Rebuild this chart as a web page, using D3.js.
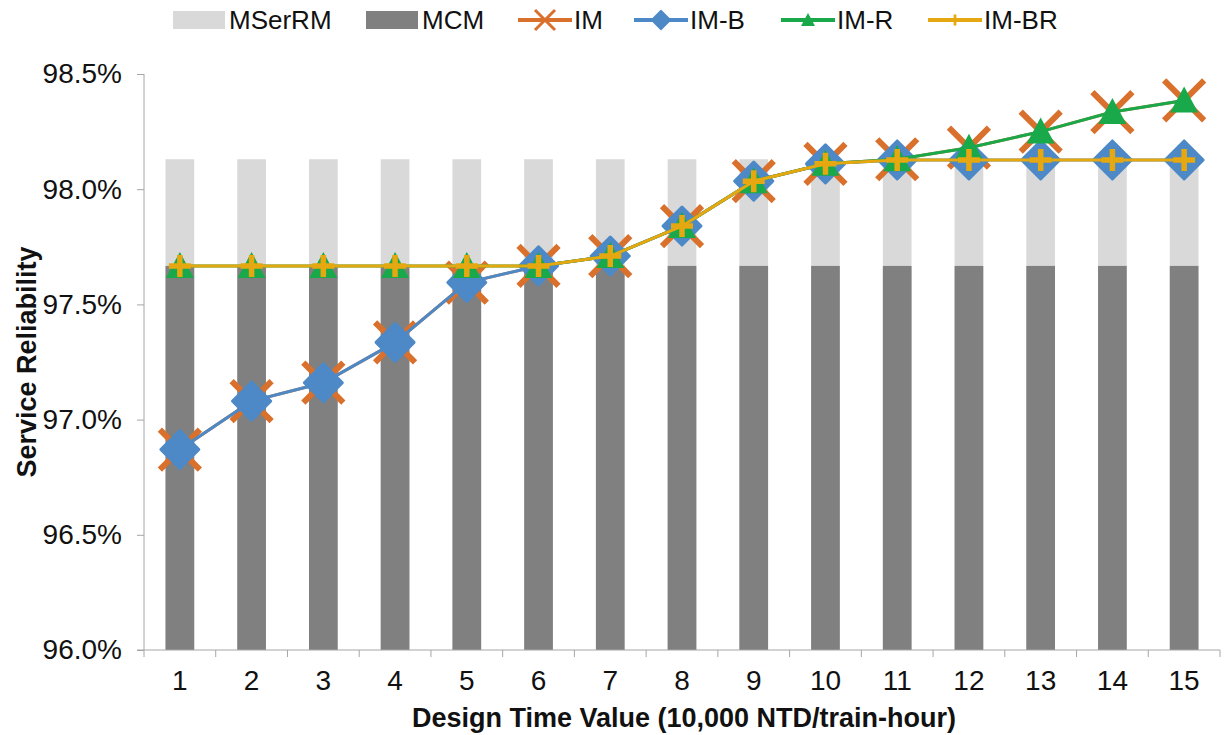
<!DOCTYPE html>
<meta charset="utf-8">
<script src="https://d3js.org/d3.v7.min.js"></script>
<style>
  body { margin: 0; background: #fff; }
  text { font-family: "Liberation Sans", Arial, sans-serif; fill: #111; }
</style>
<div id="my_dataviz"></div>
<script>
  // data
  var categories = ["1","2","3","4","5","6","7","8","9","10","11","12","13","14","15"];
  var msermm = [98.13,98.13,98.13,98.13,98.13,98.13,98.13,98.13,98.13,98.13,98.13,98.13,98.13,98.13,98.13];
  var mcm    = [97.667,97.667,97.667,97.667,97.667,97.667,97.667,97.667,97.667,97.667,97.667,97.667,97.667,97.667,97.667];
  var im     = [96.87,97.08,97.16,97.335,97.595,97.667,97.71,97.84,98.035,98.11,98.13,98.18,98.25,98.335,98.385];
  var imB    = [96.87,97.08,97.16,97.335,97.595,97.667,97.71,97.84,98.035,98.11,98.127,98.127,98.127,98.127,98.127];
  var imR    = [97.667,97.667,97.667,97.667,97.667,97.667,97.71,97.84,98.035,98.11,98.13,98.18,98.25,98.335,98.385];
  var imBR   = [97.667,97.667,97.667,97.667,97.667,97.667,97.71,97.84,98.035,98.11,98.127,98.127,98.127,98.127,98.127];
  var yTicks = [96.0, 96.5, 97.0, 97.5, 98.0, 98.5];

  var width = 1225, height = 735;
  var mLeft = 144, mRight = 1220, mTop = 74, mBottom = 650;

  var svg = d3.select("#my_dataviz").append("svg")
    .attr("width", width).attr("height", height);

  var x = d3.scalePoint().domain(categories).range([mLeft, mRight]).padding(0.5);
  var step = x.step();
  var y = d3.scaleLinear().domain([96.0, 98.5]).range([mBottom, mTop]);

  var axisColor = "#a6a6a6";

  // bars (MSerRM behind, MCM in front, fully overlapped)
  var barW = step * 0.4;
  function bars(vals, color) {
    svg.append("g").selectAll("rect").data(vals).enter().append("rect")
      .attr("x", function (d, i) { return x(categories[i]) - barW / 2; })
      .attr("y", function (d) { return y(d); })
      .attr("width", barW)
      .attr("height", function (d) { return mBottom - y(d); })
      .attr("fill", color);
  }
  bars(msermm, "#d9d9d9");
  bars(mcm, "#808080");

  // y axis
  var yAxis = svg.append("g").attr("transform", "translate(" + mLeft + ",0)")
    .call(d3.axisLeft(y).tickValues(yTicks).tickSize(7).tickPadding(15)
      .tickFormat(function (d) { return d3.format(".1f")(d) + "%"; }));
  yAxis.select(".domain").attr("stroke", axisColor).attr("d", "M0," + mTop + "V" + mBottom);
  yAxis.selectAll(".tick line").attr("stroke", axisColor);
  yAxis.selectAll("text").style("font-size", "28px").attr("fill", "#111");

  // x axis
  var xg = svg.append("g");
  xg.append("line").attr("x1", mLeft - 7).attr("x2", mRight).attr("y1", mBottom).attr("y2", mBottom)
    .attr("stroke", axisColor);
  xg.selectAll("line.tk").data([mLeft].concat(categories.map(function (c) { return x(c) + step / 2; })))
    .enter().append("line").attr("class", "tk")
    .attr("x1", function (d) { return d; }).attr("x2", function (d) { return d; })
    .attr("y1", mBottom).attr("y2", mBottom + 7).attr("stroke", axisColor);
  xg.selectAll("text").data(categories).enter().append("text")
    .attr("x", function (d) { return x(d); }).attr("y", 690)
    .attr("text-anchor", "middle").style("font-size", "28px")
    .text(function (d) { return d; });

  // axis titles
  svg.append("text").attr("x", 684).attr("y", 727)
    .attr("text-anchor", "middle").style("font-size", "27px").style("font-weight", "bold")
    .text("Design Time Value (10,000 NTD/train-hour)");
  svg.append("text").attr("transform", "translate(36," + (mTop + mBottom) / 2 + ") rotate(-90)")
    .attr("text-anchor", "middle").style("font-size", "27px").style("font-weight", "bold")
    .text("Service Reliability");

  // marker drawers
  var markers = {
    x: function (g, c) {
      g.append("path").attr("d", "M-20,-20L20,20M-20,20L20,-20")
        .attr("stroke", c).attr("stroke-width", 6).attr("fill", "none");
    },
    diamond: function (g, c) {
      g.append("path").attr("d", "M0,-19L19,0L0,19L-19,0Z").attr("fill", c)
        .attr("stroke", c).attr("stroke-width", 3).attr("stroke-linejoin", "round");
    },
    triangle: function (g, c) {
      g.append("path").attr("d", "M0,-14L14,12L-14,12Z").attr("fill", c);
    },
    plus: function (g, c) {
      g.append("path").attr("d", "M-11,0H11M0,-11V11")
        .attr("stroke", c).attr("stroke-width", 5.5).attr("fill", "none");
    }
  };

  var series = [
    { name: "IM", vals: im, color: "#d9702c", marker: "x" },
    { name: "IM-B", vals: imB, color: "#4d89c6", marker: "diamond" },
    { name: "IM-R", vals: imR, color: "#19a84a", marker: "triangle" },
    { name: "IM-BR", vals: imBR, color: "#e5a810", marker: "plus" }
  ];

  var line = d3.line()
    .x(function (d, i) { return x(categories[i]); })
    .y(function (d) { return y(d); });

  series.forEach(function (s) {
    svg.append("path").datum(s.vals).attr("d", line)
      .attr("fill", "none").attr("stroke", s.color).attr("stroke-width", 3);
    s.vals.forEach(function (v, i) {
      var g = svg.append("g").attr("transform", "translate(" + x(categories[i]) + "," + y(v) + ")");
      markers[s.marker](g, s.color);
    });
  });

  // legend
  var lg = svg.append("g").attr("transform", "translate(0,20)");
  var legendItems = [
    { name: "MSerRM", type: "rect", color: "#d9d9d9", x: 173 },
    { name: "MCM", type: "rect", color: "#808080", x: 366 },
    { name: "IM", type: "x", color: "#d9702c", x: 518 },
    { name: "IM-B", type: "diamond", color: "#4d89c6", x: 634 },
    { name: "IM-R", type: "triangle", color: "#19a84a", x: 781 },
    { name: "IM-BR", type: "plus", color: "#e5a810", x: 928 }
  ];
  legendItems.forEach(function (it) {
    if (it.type === "rect") {
      lg.append("rect").attr("x", it.x).attr("y", -9).attr("width", 52).attr("height", 18).attr("fill", it.color);
    } else {
      lg.append("line").attr("x1", it.x).attr("x2", it.x + 54).attr("y1", 0).attr("y2", 0)
        .attr("stroke", it.color).attr("stroke-width", 4);
      var g = lg.append("g").attr("transform", "translate(" + (it.x + 27) + ",0) scale(0.5)");
      markers[it.type](g, it.color);
    }
    lg.append("text").attr("x", it.x + 56).attr("y", 9).style("font-size", "26px").text(it.name);
  });
</script>
